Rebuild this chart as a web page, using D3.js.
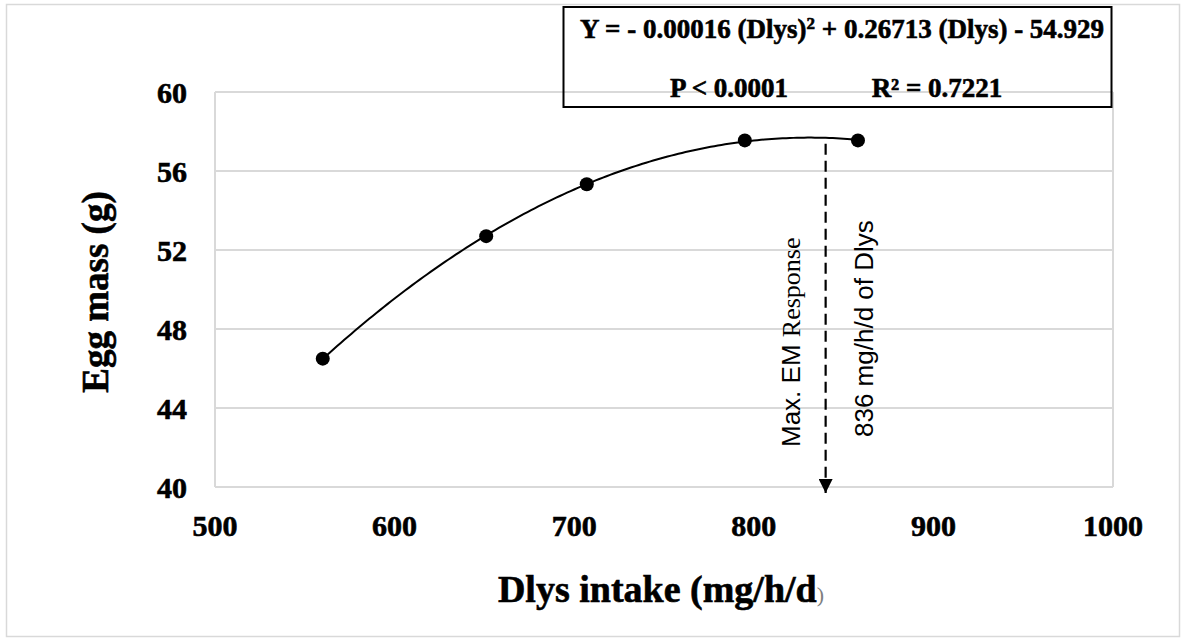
<!DOCTYPE html>
<html>
<head>
<meta charset="utf-8">
<script src="https://cdn.jsdelivr.net/npm/d3@7"></script>
<style>
  body { margin: 0; background: #fff; }
  svg { display: block; }
  .heavy { stroke: #000; stroke-width: 0.6px; }
</style>
</head>
<body>
<div id="chart"></div>
<script>
// data
const dlysIntake = [560, 651, 707, 795, 858];
const eggMass = [46.5, 52.7, 55.33, 57.55, 57.55];
const xTicks = [500, 600, 700, 800, 900, 1000];
const yTicks = [40, 44, 48, 52, 56, 60];
const maxResponseX = 840;   // where the arrow is drawn
const eqLine = "Y = - 0.00016 (Dlys)";
const eqLineRest = " + 0.26713 (Dlys) - 54.929";
const statP = "P < 0.0001";
const statR = "0.7221";

const width = 1183, height = 643;
const margin = { top: 92, right: 70, bottom: 156, left: 215 };
const serif = "'Liberation Serif', 'Times New Roman', serif";
const sans = "'Liberation Sans', Arial, sans-serif";

const svg = d3.select("#chart").append("svg")
  .attr("width", width).attr("height", height);

// outer chart border
svg.append("rect")
  .attr("x", 6.5).attr("y", 4.5).attr("width", 1173).attr("height", 632)
  .attr("fill", "none").attr("stroke", "#d9d9d9").attr("stroke-width", 1.5);

const x = d3.scaleLinear().domain([500, 1000]).range([margin.left, width - margin.right]);
const y = d3.scaleLinear().domain([40, 60]).range([height - margin.bottom, margin.top]);

// gridlines
svg.append("g")
  .selectAll("line")
  .data(yTicks)
  .join("line")
    .attr("x1", x(500)).attr("x2", x(1000))
    .attr("y1", d => y(d)).attr("y2", d => y(d))
    .attr("stroke", "#d9d9d9").attr("stroke-width", 2);

// plot area border sides
svg.append("g").selectAll("line")
  .data([500, 1000])
  .join("line")
    .attr("x1", d => x(d)).attr("x2", d => x(d))
    .attr("y1", y(60)).attr("y2", y(40))
    .attr("stroke", "#d9d9d9").attr("stroke-width", 2);

// y tick labels
svg.append("g")
  .selectAll("text")
  .data(yTicks)
  .join("text")
    .attr("class", "heavy")
    .attr("x", 187).attr("y", d => y(d) + 11)
    .attr("text-anchor", "end")
    .attr("font-family", serif).attr("font-weight", "bold").attr("font-size", 30)
    .text(d => d);

// x tick labels
svg.append("g")
  .selectAll("text")
  .data(xTicks)
  .join("text")
    .attr("class", "heavy")
    .attr("x", d => x(d)).attr("y", y(40) + 49)
    .attr("text-anchor", "middle")
    .attr("font-family", serif).attr("font-weight", "bold").attr("font-size", 30)
    .text(d => d);

// axis titles
svg.append("text")
  .attr("class", "heavy")
  .attr("transform", "translate(108,292) rotate(-90)")
  .attr("text-anchor", "middle")
  .attr("font-family", serif).attr("font-weight", "bold").attr("font-size", 37)
  .text("Egg mass (g)");

const xt = svg.append("text")
  .attr("x", 661).attr("y", 602)
  .attr("text-anchor", "middle")
  .attr("font-family", serif).attr("font-weight", "bold").attr("font-size", 38);
xt.append("tspan").attr("class", "heavy").text("Dlys intake (mg/h/d");
xt.append("tspan").attr("font-weight", "normal").attr("font-size", 22)
  .attr("fill", "#7f7f7f").text(")");

// quadratic trendline: least squares fit of the points
function fitQuad(xs, ys) {
  const m = d3.mean(xs);
  let s = [0, 0, 0, 0, 0], t = [0, 0, 0];
  xs.forEach((xv, i) => {
    const u = xv - m;
    for (let k = 0; k < 5; k++) s[k] += Math.pow(u, k);
    for (let k = 0; k < 3; k++) t[k] += ys[i] * Math.pow(u, k);
  });
  const A = [[s[0], s[1], s[2]], [s[1], s[2], s[3]], [s[2], s[3], s[4]]];
  const b = t.slice();
  // gaussian elimination
  for (let i = 0; i < 3; i++) {
    for (let j = i + 1; j < 3; j++) {
      const f = A[j][i] / A[i][i];
      for (let k = i; k < 3; k++) A[j][k] -= f * A[i][k];
      b[j] -= f * b[i];
    }
  }
  const c = [0, 0, 0];
  for (let i = 2; i >= 0; i--) {
    let v = b[i];
    for (let k = i + 1; k < 3; k++) v -= A[i][k] * c[k];
    c[i] = v / A[i][i];
  }
  return xv => c[0] + c[1] * (xv - m) + c[2] * (xv - m) * (xv - m);
}
const fit = fitQuad(dlysIntake, eggMass);
const xs = d3.range(d3.min(dlysIntake), d3.max(dlysIntake) + 0.5, 2);

svg.append("path")
  .datum(xs)
  .attr("fill", "none").attr("stroke", "#000").attr("stroke-width", 2)
  .attr("d", d3.line().x(d => x(d)).y(d => y(fit(d))));

// points
svg.append("g")
  .selectAll("circle")
  .data(dlysIntake)
  .join("circle")
    .attr("cx", d => x(d))
    .attr("cy", (d, i) => y(eggMass[i]))
    .attr("r", 7)
    .attr("fill", "#000");

// max response arrow
svg.append("defs").append("marker")
  .attr("id", "arrow").attr("viewBox", "0 0 10 10")
  .attr("refX", 5).attr("refY", 10)
  .attr("markerWidth", 14).attr("markerHeight", 14)
  .attr("markerUnits", "userSpaceOnUse")
  .attr("orient", "0")
  .append("path").attr("d", "M0,0 L10,0 L5,10 Z").attr("fill", "#000");

svg.append("line")
  .attr("x1", x(maxResponseX)).attr("x2", x(maxResponseX))
  .attr("y1", y(fit(maxResponseX)) + 6).attr("y2", y(40) + 6)
  .attr("stroke", "#000").attr("stroke-width", 2.2)
  .attr("stroke-dasharray", "11,6")
  .attr("marker-end", "url(#arrow)");

const t1 = svg.append("text")
  .attr("transform", "translate(800,447) rotate(-90)")
  .attr("font-size", 26).attr("font-family", sans);
t1.append("tspan").text("Max. EM ");
t1.append("tspan").attr("font-family", serif).text("Response");

svg.append("text")
  .attr("transform", "translate(873,437) rotate(-90)")
  .attr("font-size", 26).attr("font-family", sans)
  .text("836 mg/h/d of Dlys");

// equation box
svg.append("rect")
  .attr("x", 563.5).attr("y", 7).attr("width", 548).attr("height", 100)
  .attr("fill", "none").attr("stroke", "#000").attr("stroke-width", 2);

const eq = svg.append("text")
  .attr("class", "heavy")
  .attr("x", 842).attr("y", 38).attr("text-anchor", "middle")
  .attr("font-family", serif).attr("font-weight", "bold").attr("font-size", 27);
eq.append("tspan").text(eqLine);
eq.append("tspan").attr("font-size", 17).attr("dy", -9).text("2");
eq.append("tspan").attr("dy", 9).text(eqLineRest);

svg.append("text")
  .attr("class", "heavy")
  .attr("x", 729).attr("y", 97).attr("text-anchor", "middle")
  .attr("font-family", serif).attr("font-weight", "bold").attr("font-size", 27)
  .text(statP);

svg.append("text")
  .attr("class", "heavy")
  .attr("x", 937).attr("y", 97).attr("text-anchor", "middle")
  .attr("font-family", serif).attr("font-weight", "bold").attr("font-size", 27)
  .text("R\u00b2 = " + statR);
</script>
</body>
</html>
